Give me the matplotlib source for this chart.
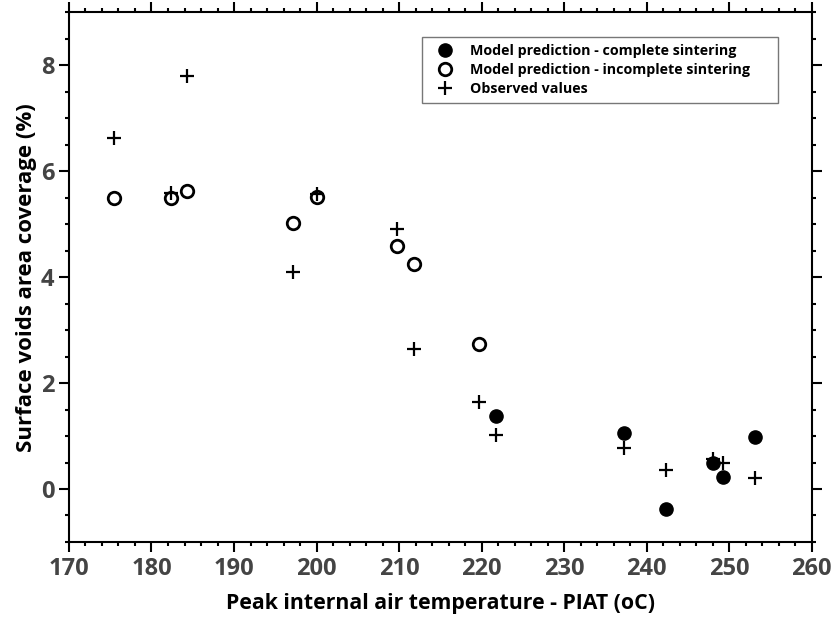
import matplotlib
matplotlib.use("Agg")
import matplotlib.pyplot as plt
from matplotlib.ticker import MultipleLocator

plt.rcParams['font.family'] = ['Open Sans', 'DejaVu Sans']
plt.rcParams['font.weight'] = 'bold'

# Peak internal air temperature (oC) and surface voids coverage (%)
obs_temp = [175.4, 182.4, 184.3, 197.1, 200.0, 209.7, 211.8, 219.7, 221.7,
            237.3, 242.3, 248.0, 249.2, 253.1]
obs_cov = [6.62, 5.58, 7.79, 4.10, 5.57, 4.90, 2.64, 1.65, 1.02,
           0.78, 0.36, 0.56, 0.50, 0.21]

incomplete_temp = [175.4, 182.4, 184.3, 197.1, 200.0, 209.8, 211.8, 219.7]
incomplete_cov = [5.49, 5.50, 5.63, 5.02, 5.52, 4.58, 4.25, 2.74]

complete_temp = [221.7, 237.3, 242.3, 248.1, 249.2, 253.1]
complete_cov = [1.38, 1.05, -0.38, 0.50, 0.23, 0.98]

fig = plt.figure(figsize=(8.33, 6.17), dpi=100)
ax = fig.add_axes([0.0828, 0.1216, 0.8916, 0.8584])

ax.plot(complete_temp, complete_cov, linestyle='none', marker='o',
        markersize=9.5, color='black', label='Model prediction - complete sintering')
ax.plot(incomplete_temp, incomplete_cov, linestyle='none', marker='o',
        markersize=9.0, markerfacecolor='white', markeredgecolor='black',
        markeredgewidth=2.0, label='Model prediction - incomplete sintering')
ax.plot(obs_temp, obs_cov, linestyle='none', marker='+', markersize=10.5,
        markeredgewidth=1.6, color='black', label='Observed values')

ax.set_xlim(170, 260)
ax.set_ylim(-1, 9)
ax.xaxis.set_major_locator(MultipleLocator(10))
ax.xaxis.set_minor_locator(MultipleLocator(2))
ax.yaxis.set_major_locator(MultipleLocator(2))
ax.yaxis.set_minor_locator(MultipleLocator(0.5))

for s in ax.spines.values():
    s.set_linewidth(1.5)

ax.tick_params(which='both', direction='out', top=True, right=True,
               width=1.5, labelcolor='#444444', labelsize=17)
ax.tick_params(which='major', length=7)
ax.tick_params(which='minor', length=3)
for lbl in ax.get_xticklabels() + ax.get_yticklabels():
    lbl.set_fontweight('bold')

ax.set_xlabel('Peak internal air temperature - PIAT (oC)', fontsize=15.3,
              fontweight='bold', labelpad=9)
ax.set_ylabel('Surface voids area coverage (%)', fontsize=16,
              fontweight='bold', labelpad=3)

leg = ax.legend(loc='upper left', bbox_to_anchor=(0.4753, 0.5, 0.4793, 0.4534),
                mode='expand', borderaxespad=0,
                prop={'weight': 'bold', 'size': 10.3}, frameon=True,
                fancybox=False, edgecolor='#555555', handletextpad=0.65,
                labelspacing=0.35, borderpad=0.5, handlelength=2.2,
                numpoints=1)
leg.get_frame().set_linewidth(1.0)

fig.savefig('out.png', dpi=100)
